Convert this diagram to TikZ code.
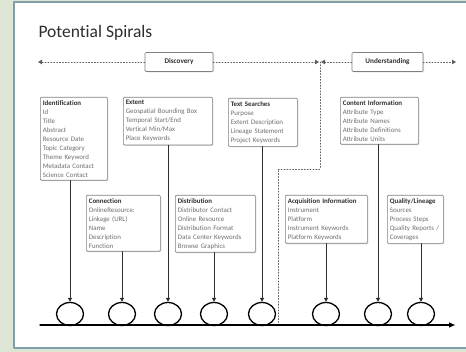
\documentclass[tikz,border=0pt]{standalone}
\usepackage{fontspec}
\setmainfont{Carlito}[Ligatures=NoCommon]
\usepackage{tikz}
\usetikzlibrary{arrows.meta,shapes.geometric,shadows}
\definecolor{sage}{HTML}{DDE6D5}
\definecolor{frame}{HTML}{7E9EAA}
\definecolor{ink}{HTML}{2E2E2E}
\definecolor{soft}{HTML}{6E6E6E}
\definecolor{rule}{HTML}{808080}
\tikzset{
  every picture/.style={line join=round, line cap=round, >=Stealth},
  card/.style={draw=rule, fill=white, line width=0.7pt, rounded corners=1pt,
    anchor=north west, align=left, inner xsep=2.5pt, inner ysep=3pt,
    font=\fontsize{6.9}{9}\selectfont, text=soft,
    drop shadow={opacity=0.25, shadow xshift=1pt, shadow yshift=-1pt}},
  phase/.style={draw=rule, fill=white, line width=0.7pt, rounded corners=1pt,
    minimum height=19pt, font=\fontsize{7.2}{8}\selectfont\bfseries, text=ink,
    drop shadow={opacity=0.25, shadow xshift=1pt, shadow yshift=-1pt}},
  loop/.style={ellipse, draw, line width=1.3pt, minimum width=27pt, minimum height=23pt, inner sep=0pt},
  feed/.style={draw=ink, line width=1pt, -{Triangle[length=4pt,width=4pt]}},
  dots/.style={draw=soft!85!black, dotted, line width=0.9pt},
  dtip/.style={-{Triangle[length=4pt,width=4.5pt]}},
}
\newcommand{\hd}[1]{{\color{ink}\bfseries #1}}

\begin{document}
\begin{tikzpicture}[x=1pt,y=-1pt]
\useasboundingbox (0,0) rectangle (466,352);
\fill[sage] (0,0) rectangle (466,352);
\filldraw[fill=white,draw=frame,line width=1.6pt] (14,2) rectangle (472,348);
\node[anchor=west,text=ink,font=\fontsize{17.5}{19}\selectfont] (title) at (35,33) {Potential Spirals};
% phases
\node[phase,minimum width=68pt] (disc) at (179,62) {Discovery};
\node[phase,minimum width=71pt] (und) at (387.5,62) {Understanding};
\coordinate (dl) at (38,62); \coordinate (dm1) at (319,62);
\coordinate (dm2) at (321,62); \coordinate (dr) at (456,62);
\coordinate (mid) at (320,62); \coordinate (sep) at (278,169);
\draw[dots,dtip] (disc.west) -- (dl);
\draw[dots,dtip] (disc.east) -- (dm1);
\draw[dots,dtip] (und.west) -- (dm2);
\draw[dots,dtip] (und.east) -- (dr);
% top row
\node[card,text width=62pt] (ident) at (40,97) {\hd{Identification}\\Id\\Title\\Abstract\\Resource Date\\Topic Category\\Theme Keyword\\Metadata Contact\\Science Contact};
\node[card,text width=84pt] (extent) at (123,97) {\hd{Extent}\\Geospatial Bounding Box\\Temporal Start/End\\Vertical Min/Max\\Place Keywords};
\node[card,text width=64pt] (search) at (228,98) {\hd{Text Searches}\\Purpose\\Extent Description\\Lineage Statement\\Project Keywords};
\node[card,text width=73pt] (content) at (340,97) {\hd{Content Information}\\Attribute Type\\Attribute Names\\Attribute Definitions\\Attribute Units};
% bottom row
\node[card,text width=69pt] (conn) at (86,195) {\hd{Connection}\\OnlineResource:\\Linkage (URL)\\Name\\Description\\Function};
\node[card,text width=75pt] (distr) at (175,195) {\hd{Distribution}\\Distributor Contact\\Online Resource\\Distribution Format\\Data Center Keywords\\Browse Graphics};
\node[card,text width=77pt] (acq) at (285,195) {\hd{Acquisition Information}\\Instrument\\Platform\\Instrument Keywords\\Platform Keywords};
\node[card,text width=51pt] (qual) at (387,195) {\hd{Quality/Lineage}\\Sources\\Process Steps\\Quality Reports~/\\Coverages};
% separator
\draw[dots] (mid) |- (sep) -- (sep |- 0,326);
% spirals
\coordinate (ax0) at (40,325); \coordinate (ax1) at (455,325);
\foreach \i/\x in {1/70,2/122,3/168,4/214,5/262,6/326,7/378,8/421}{
  \node[loop] (c\i) at (\x,314) {};
}
\draw[line width=1.3pt,-{Triangle[length=6pt,width=5pt]}] (ax0) -- (ax1);
\foreach \b/\c in {ident/c1,conn/c2,extent/c3,distr/c4,search/c5,acq/c6,content/c7,qual/c8}{
  \draw[feed] (\b.south -| \c) -- (\c.north);
}
\end{tikzpicture}
\end{document}
